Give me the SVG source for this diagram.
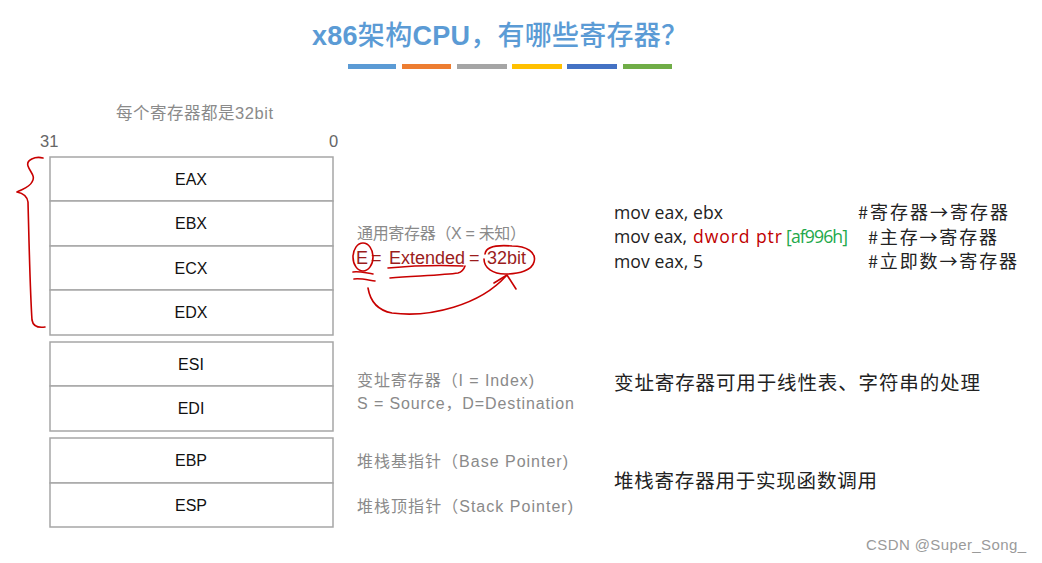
<svg xmlns="http://www.w3.org/2000/svg" width="1042" height="563" viewBox="0 0 1042 563">
<style>
.reg{fill:#fff;stroke:#a6a6a6;stroke-width:1.5}
.rl{font-family:"Liberation Sans",Arial,sans-serif;font-size:16px;fill:#111;text-anchor:middle}
.g{font-family:"Liberation Sans","Noto Sans CJK SC",sans-serif;font-size:16px;fill:#8a8a8a}
.code{font-family:"Open Sans","Liberation Sans",sans-serif;font-size:17.6px;fill:#222}
.red{fill:#c00000}
.grn{fill:#22a84a}
.cj{font-family:"Noto Sans CJK SC",sans-serif;font-size:18px;fill:#222}
.ink{fill:none;stroke:#c80000;stroke-width:1.6;stroke-linecap:round;stroke-linejoin:round}
</style>
<rect width="1042" height="563" fill="#fff"/>
<g id="title">
<text x="312" y="45" textLength="376" font-family="'Liberation Sans','Noto Sans CJK SC',sans-serif" font-size="27" fill="#5b9bd5"><tspan font-weight="bold">x86</tspan><tspan font-weight="500">架构</tspan><tspan font-weight="bold">CPU</tspan><tspan font-weight="500">，有哪些寄存器？</tspan></text>
<rect x="348" y="64" width="48" height="5" fill="#5b9bd5"/>
<rect x="402" y="64" width="49" height="5" fill="#ed7d31"/>
<rect x="457" y="64" width="50" height="5" fill="#a5a5a5"/>
<rect x="512" y="64" width="50" height="5" fill="#ffc000"/>
<rect x="567" y="64" width="50" height="5" fill="#4472c4"/>
<rect x="623" y="64" width="49" height="5" fill="#70ad47"/>
</g>
<g id="header">
<text x="116" y="119" class="g" style="font-size:16.5px" textLength="157">每个寄存器都是32bit</text>
<text x="40" y="147" class="g" style="font-size:16.5px;fill:#666">31</text>
<text x="329" y="147" class="g" style="font-size:16.5px;fill:#666">0</text>
</g>
<g id="EAX"><rect class="reg" x="50" y="157" width="283" height="44"/><text class="rl" x="191" y="185">EAX</text></g>
<g id="EBX"><rect class="reg" x="50" y="201" width="283" height="45"/><text class="rl" x="191" y="229">EBX</text></g>
<g id="ECX"><rect class="reg" x="50" y="246" width="283" height="44"/><text class="rl" x="191" y="274">ECX</text></g>
<g id="EDX"><rect class="reg" x="50" y="290" width="283" height="45"/><text class="rl" x="191" y="318">EDX</text></g>
<g id="ESI"><rect class="reg" x="50" y="342" width="283" height="44"/><text class="rl" x="191" y="370">ESI</text></g>
<g id="EDI"><rect class="reg" x="50" y="386" width="283" height="45"/><text class="rl" x="191" y="414">EDI</text></g>
<g id="EBP"><rect class="reg" x="50" y="438" width="283" height="45"/><text class="rl" x="191" y="466">EBP</text></g>
<g id="ESP"><rect class="reg" x="50" y="483" width="283" height="44"/><text class="rl" x="191" y="511">ESP</text></g>
<g id="descriptions">
<text class="g" x="357" y="239" textLength="169">通用寄存器（X = 未知）</text>
<text class="g" x="356" y="264" style="font-size:18px;fill:#9b1c1c">E<tspan x="371">=</tspan><tspan x="389">Extended</tspan><tspan x="469">=</tspan><tspan x="487">32bit</tspan></text>
<text class="g" x="357" y="386" textLength="177">变址寄存器（I = Index)</text>
<text class="g" x="357" y="409" textLength="217">S = Source，D=Destination</text>
<text class="g" x="357" y="467" textLength="211">堆栈基指针（Base Pointer)</text>
<text class="g" x="357" y="512" textLength="216">堆栈顶指针（Stack Pointer)</text>
</g>
<g id="code">
<text class="code" x="614" y="219" textLength="109">mov eax, ebx</text>
<text class="code" x="614" y="243" textLength="73">mov eax,</text>
<text class="code red" x="693" y="243" textLength="89">dword ptr</text>
<text class="code grn" x="786" y="243" textLength="62">[af996h]</text>
<text class="code" x="614" y="268" textLength="89">mov eax, 5</text>
<text class="cj" x="858" y="219" textLength="150">#寄存器→寄存器</text>
<text class="cj" x="868" y="244" textLength="129">#主存→寄存器</text>
<text class="cj" x="868" y="268" textLength="149">#立即数→寄存器</text>
<text class="cj" x="614" y="390" style="font-size:19.5px" textLength="366">变址寄存器可用于线性表、字符串的处理</text>
<text class="cj" x="614" y="488" style="font-size:19.5px" textLength="263">堆栈寄存器用于实现函数调用</text>
</g>
<g id="annotations">
<path class="ink" d="M43,158 C35,156 26,160 28,166 C30,172 36,176 32,182 C29,188 22,189 17,192 C22,193 27,195 28,202 C29,240 30,290 32,320 C33,326 38,328 45,327"/>
<ellipse class="ink" cx="363" cy="257" rx="10" ry="14"/>
<path class="ink" d="M353,272 C359,271 366,273 373,274 M354,279 C360,278 368,280 375,281"/>
<path class="ink" d="M388,268 C410,266 440,265 463,266"/>
<path class="ink" d="M390,278 C415,276 445,275 458,273 C462,272 464,269 465,266"/>
<path class="ink" d="M485,254 C486,246 500,245 512,246 C526,246 537,252 534,262 C532,270 520,274 505,274 C493,274 484,268 484,259"/>
<path class="ink" d="M368,288 C370,300 376,310 392,313 C430,318 480,305 506,276"/>
<path class="ink" d="M494,283 L507,275 L516,289"/>
</g>
<text x="866" y="550" font-family="'Liberation Sans',sans-serif" font-size="15" fill="#9a9a9a" textLength="160">CSDN @Super_Song_</text>
</svg>
